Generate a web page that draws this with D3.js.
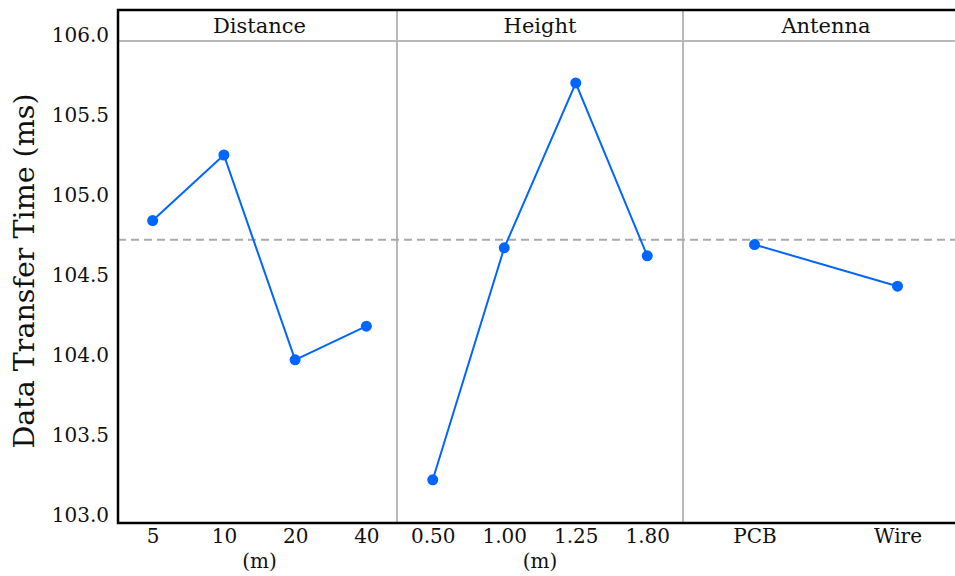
<!DOCTYPE html>
<html>
<head>
<meta charset="utf-8">
<style>
    body { margin: 0; background: #fff; }
    svg { display: block; }
    text { font-family: "DejaVu Serif", "Liberation Serif", serif; fill: #111; }
</style>
<script src="https://cdn.jsdelivr.net/npm/d3@7"></script>
</head>
<body>
<div id="chart"></div>
<script>
// values
var panelNames = ["Distance", "Height", "Antenna"];
var distanceLevels = ["5", "10", "20", "40"];
var distanceValues = [104.84, 105.25, 103.97, 104.18];
var heightLevels = ["0.50", "1.00", "1.25", "1.80"];
var heightValues = [103.22, 104.67, 105.70, 104.62];
var antennaLevels = ["PCB", "Wire"];
var antennaValues = [104.69, 104.43];
var unitLabels = ["(m)", "(m)", ""];
var grandMean = 104.72;
var yTicks = [103.0, 103.5, 104.0, 104.5, 105.0, 105.5, 106.0];

var W = 955, H = 576;
var plotLeft = 118, plotTop = 10, stripBottom = 41, plotBottom = 523, plotRight = 969;
// panel extents and point padding
var panelRanges = [[122, 397], [397, 683], [683, 969]];
var panelPadding = [0.43, 0.5, 0.5];
var lineColor = "#0066ff";
var gridGray = "#b8b8b8";

var panels = [
    { name: panelNames[0], levels: distanceLevels, values: distanceValues, unit: unitLabels[0] },
    { name: panelNames[1], levels: heightLevels, values: heightValues, unit: unitLabels[1] },
    { name: panelNames[2], levels: antennaLevels, values: antennaValues, unit: unitLabels[2] }
];

var svg = d3.select("#chart").append("svg")
    .attr("width", W)
    .attr("height", H);

var y = d3.scaleLinear()
    .domain([102.95, 106.0])
    .range([plotBottom, 35]);

// strip header line
svg.append("line")
    .attr("x1", plotLeft).attr("x2", plotRight)
    .attr("y1", stripBottom).attr("y2", stripBottom)
    .attr("stroke", gridGray).attr("stroke-width", 2);

// panel separators
svg.selectAll("line.sep")
    .data(panelRanges.slice(1))
    .enter().append("line")
    .attr("class", "sep")
    .attr("x1", function (d) { return d[0]; })
    .attr("x2", function (d) { return d[0]; })
    .attr("y1", plotTop).attr("y2", plotBottom)
    .attr("stroke", gridGray).attr("stroke-width", 2);

// grand mean
svg.append("line")
    .attr("x1", plotLeft).attr("x2", plotRight)
    .attr("y1", y(grandMean)).attr("y2", y(grandMean))
    .attr("stroke", "#aaaaaa")
    .attr("stroke-width", 2)
    .attr("stroke-dasharray", "8,5");

panels.forEach(function (p, i) {
    var r = panelRanges[i];
    var x = d3.scalePoint()
        .domain(p.levels)
        .range(r)
        .padding(panelPadding[i]);

    var g = svg.append("g");

    var line = d3.line()
        .x(function (d, j) { return x(p.levels[j]); })
        .y(function (d) { return y(d); });

    g.append("path")
        .datum(p.values)
        .attr("d", line)
        .attr("fill", "none")
        .attr("stroke", lineColor)
        .attr("stroke-width", 2);

    g.selectAll("circle")
        .data(p.values)
        .enter().append("circle")
        .attr("cx", function (d, j) { return x(p.levels[j]); })
        .attr("cy", function (d) { return y(d); })
        .attr("r", 5.5)
        .attr("fill", lineColor);

    // strip title
    svg.append("text")
        .attr("x", (r[0] + r[1]) / 2)
        .attr("y", 33)
        .attr("text-anchor", "middle")
        .style("font-size", "21px")
        .text(p.name);

    // bottom tick labels
    var ax = svg.append("g")
        .attr("transform", "translate(0," + plotBottom + ")")
        .call(d3.axisBottom(x).tickSize(0).tickPadding(6));
    ax.select(".domain").remove();
    ax.selectAll("text")
        .style("font-family", "DejaVu Serif")
        .style("font-size", "20px")
        .attr("fill", "#111");

    if (p.unit) {
        var lv = p.levels;
        svg.append("text")
            .attr("x", (x(lv[0]) + x(lv[lv.length - 1])) / 2)
            .attr("y", 568)
            .attr("text-anchor", "middle")
            .style("font-size", "20px")
            .text(p.unit);
    }
});

// y axis labels
var yAx = svg.append("g")
    .attr("transform", "translate(" + plotLeft + ",0)")
    .call(d3.axisLeft(y).tickValues(yTicks).tickFormat(d3.format(".1f")).tickSize(0).tickPadding(9));
yAx.select(".domain").remove();
yAx.selectAll("text")
    .style("font-family", "DejaVu Serif")
    .style("font-size", "20px")
    .attr("fill", "#111");

// frame (left, top, bottom)
svg.append("path")
    .attr("d", "M" + plotRight + "," + plotTop + "H" + plotLeft + "V" + plotBottom + "H" + plotRight)
    .attr("fill", "none")
    .attr("stroke", "#000")
    .attr("stroke-width", 2.5);

// y title
svg.append("text")
    .attr("transform", "translate(34,271) rotate(-90)")
    .attr("text-anchor", "middle")
    .style("font-size", "28.5px")
    .text("Data Transfer Time (ms)");
</script>
</body>
</html>
